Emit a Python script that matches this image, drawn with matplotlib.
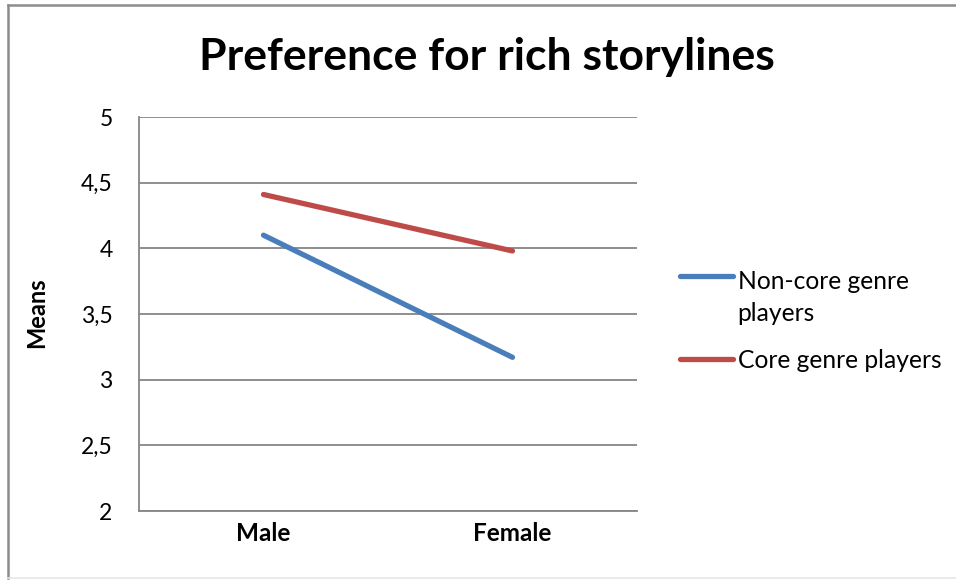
import matplotlib
matplotlib.use("Agg")
import matplotlib.pyplot as plt
from matplotlib.lines import Line2D
from matplotlib.legend_handler import HandlerLine2D

categories = ["Male", "Female"]
non_core = [4.10, 3.17]
core = [4.41, 3.98]
series_names = ["Non-core genre\nplayers", "Core genre players"]
yticks = [2, 2.5, 3, 3.5, 4, 4.5, 5]
ytick_labels = ["2", "2,5", "3", "3,5", "4", "4,5", "5"]

plt.rcParams['font.family'] = ['Lato', 'DejaVu Sans']


class ShiftedLineHandler(HandlerLine2D):
    """Legend line handle aligned with the first text line (Excel style)."""
    def __init__(self, shift=0.0, **kw):
        super().__init__(**kw)
        self.shift = shift

    def create_artists(self, legend, orig_handle, xdescent, ydescent, width,
                       height, fontsize, trans):
        arts = super().create_artists(legend, orig_handle, xdescent, ydescent,
                                      width, height, fontsize, trans)
        for a in arts:
            a.set_ydata([y + self.shift for y in a.get_ydata()])
        return arts


W, H = 956, 580
fig = plt.figure(figsize=(W/100, H/100), dpi=100)
fig.patch.set_facecolor("white")

# outer border (left + top dark, bottom light)
fig.add_artist(Line2D([8/W, 8/W], [1 - 578/H, 1 - 5/H], transform=fig.transFigure,
                      color="#8c8c8c", linewidth=1.8))
fig.add_artist(Line2D([8/W, 1.0], [1 - 5/H, 1 - 5/H], transform=fig.transFigure,
                      color="#8c8c8c", linewidth=1.8))
fig.add_artist(Line2D([8/W, 1.0], [1 - 578/H, 1 - 578/H], transform=fig.transFigure,
                      color="#e6e6e6", linewidth=1.2))

ax = fig.add_axes([139/W, 1 - 511/H, (637 - 139)/W, (511 - 117)/H])
x = [0, 1]
blue = "#4a7ebb"
red = "#be4b48"
l1, = ax.plot(x, non_core, color=blue, linewidth=3.8, solid_capstyle="round")
l2, = ax.plot(x, core, color=red, linewidth=3.8, solid_capstyle="round")

ax.set_xlim(-0.5, 1.5)
ax.set_ylim(2, 5)
ax.set_yticks(yticks)
ax.set_yticklabels(ytick_labels, fontsize=16.5)
ax.set_xticks(x)
ax.set_xticklabels(categories, fontsize=17.5, fontweight="bold")
ax.tick_params(axis="both", length=0)
ax.tick_params(axis="y", pad=19)
ax.tick_params(axis="x", pad=8)
ax.grid(axis="y", color="#868686", linewidth=1.3)
ax.set_axisbelow(True)
for s in ["top", "right"]:
    ax.spines[s].set_visible(False)
for s in ["left", "bottom"]:
    ax.spines[s].set_color("#868686")
    ax.spines[s].set_linewidth(1.3)

fig.text(37/W, 1 - 313/H, "Means", rotation=90, ha="center", va="center",
         fontsize=17, fontweight="bold")
fig.text(487/W, 1 - 57/H, "Preference for rich storylines", ha="center",
         va="center", fontsize=32, fontweight="bold")

leg = fig.legend([l1, l2], series_names, loc="upper left",
                 bbox_to_anchor=(670/W, 1 - 260/H), frameon=False,
                 fontsize=17.7, handlelength=2.15, handletextpad=0.2,
                 labelspacing=0.95, borderaxespad=0,
                 handler_map={l1: ShiftedLineHandler(shift=16.0),
                              l2: ShiftedLineHandler(shift=0.0)})
for t in leg.get_texts():
    t.set_linespacing(1.5)

fig.savefig("out.png", dpi=100)
